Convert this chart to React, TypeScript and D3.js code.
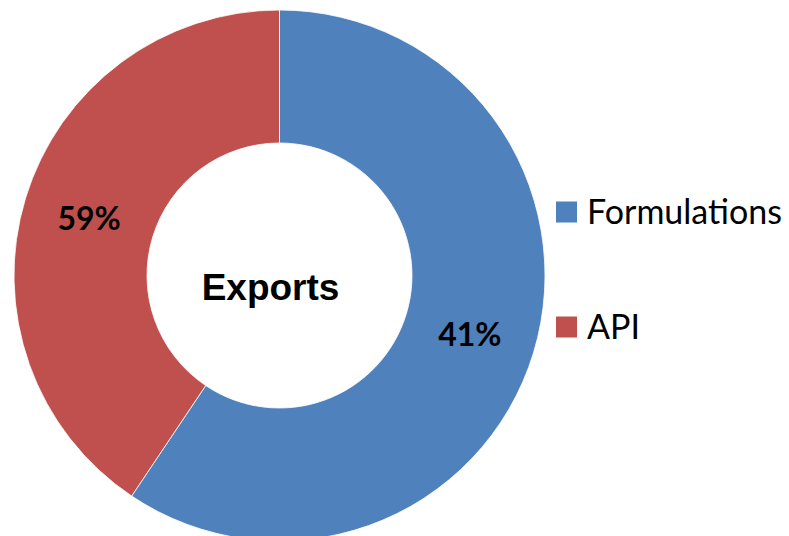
import React from "react";
import * as d3 from "d3";

const categories = ["Formulations", "API"];
const values = [59.4, 40.6];
const sliceLabels = ["41%", "59%"];
const colors = ["#4F81BD", "#C0504D"];
const centerTitle = "Exports";

const W = 789;
const H = 536;

export default function App() {
  const cx = 279.5;
  const cy = 275.5;
  const outerR = 265.5;
  const innerR = 132.5;
  const pie = d3.pie<number>().sort(null).value((d) => d)(values);
  const arc = d3.arc<d3.PieArcDatum<number>>().innerRadius(innerR).outerRadius(outerR);
  const labelArc = d3.arc<d3.PieArcDatum<number>>().innerRadius(innerR).outerRadius(outerR);
  const legendY = d3.scalePoint<string>().domain(categories).range([212, 327]);

  return (
    <svg
      width={W}
      height={H}
      style={{ position: "absolute", left: 0, top: 0, background: "#fff" }}
    >
      <g transform={`translate(${cx},${cy})`}>
        {pie.map((p, i) => (
          <path key={i} d={arc(p) || ""} fill={colors[i]} stroke="#ffffff" strokeWidth={0.8} />
        ))}
        {pie.map((p, i) => {
          const [x, y] = labelArc.centroid(p);
          return (
            <text
              key={"l" + i}
              x={x}
              y={y}
              textAnchor="middle"
              dominantBaseline="central"
              fontFamily="Lato, 'Open Sans', sans-serif"
              fontWeight="bold"
              fontSize={32}
              fill="#000"
            >
              {sliceLabels[i]}
            </text>
          );
        })}
        <text
          x={-9}
          y={24}
          textAnchor="middle"
          fontFamily="'Liberation Sans', Arial, sans-serif"
          fontWeight="bold"
          fontSize={37}
          fill="#000"
        >
          {centerTitle}
        </text>
      </g>
      {categories.map((c, i) => {
        const y = legendY(c) as number;
        return (
          <g key={c}>
            <rect x={556} y={y - 10.5} width={21} height={21} fill={colors[i]} />
            <text
              x={587}
              y={y + 11.5}
              fontFamily="Lato, 'Open Sans', sans-serif"
              fontSize={34}
              fill="#000"
            >
              {c}
            </text>
          </g>
        );
      })}
    </svg>
  );
}
